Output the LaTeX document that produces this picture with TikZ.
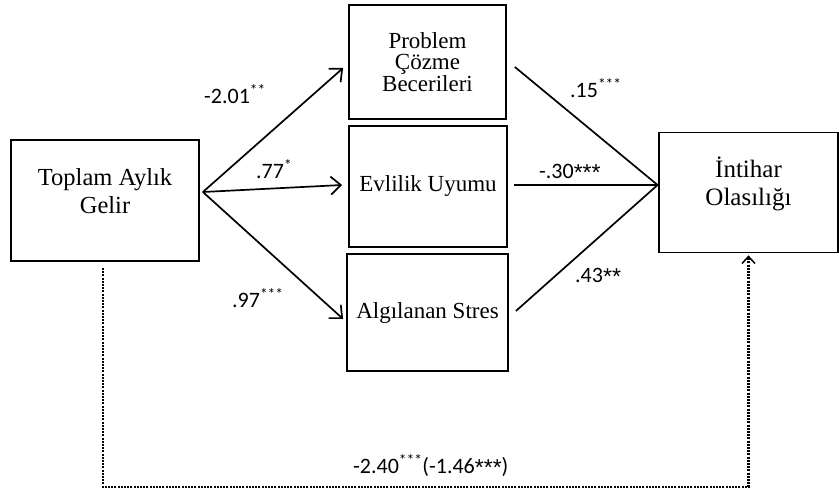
\documentclass[tikz,border=0pt]{standalone}
\usepackage{fontspec}
\setmainfont{Liberation Serif}
\newfontfamily\labfont{Carlito}
\newfontfamily\starfont{Liberation Sans}
\newcommand{\bigstars}[1]{{\starfont\fontsize{23}{24}\selectfont\raisebox{-2pt}{#1}}}
\usetikzlibrary{arrows.meta}
\begin{document}
\begin{tikzpicture}[x=1pt,y=-1pt,
  box/.style={draw, line width=1.8pt, inner sep=0pt, align=center},
  big/.style={font=\fontsize{24.5}{28}\selectfont},
  mid/.style={font=\fontsize{23}{27}\selectfont},
  small/.style={font=\fontsize{23}{21.5}\selectfont},
  coef/.style={font=\labfont\fontsize{22}{24}\selectfont, inner sep=0pt, anchor=base west},
  conn/.style={line width=1.7pt},
  arr/.style={conn, -{Straight Barb[length=10pt,width=18pt,line width=1.7pt]}},
  dots/.style={line width=2.2pt, dash pattern=on 2pt off 1.2pt,
    -{Straight Barb[length=7pt,width=13pt,line width=1.5pt]}}
]
\useasboundingbox (0,0) rectangle (839,490);

\node[box,big,minimum width=188pt,minimum height=121pt] (inc) at (105,200.5)
  {\raisebox{7pt}[\height][\depth]{\begin{tabular}{@{}c@{}}Toplam Aylık\\Gelir\end{tabular}}};
\node[box,small,minimum width=157pt,minimum height=114pt] (pcb) at (427.5,62)
  {Problem\\Çözme\\Becerileri};
\node[box,mid,minimum width=158pt,minimum height=121pt] (ev) at (428,186.5)
  {Evlilik Uyumu};
\node[box,mid,minimum width=161pt,minimum height=117pt] (st) at (427.5,312.5)
  {Algılanan Stres};
\node[box,big,font=\fontsize{25}{28}\selectfont,minimum width=179pt,minimum height=120pt] (out) at (748.5,192.5)
  {\raisebox{7pt}[\height][\depth]{\begin{tabular}{@{}c@{}}İntihar\\Olasılığı\end{tabular}}};

% connector end points
\coordinate (s)  at ([xshift=3pt,yshift=8.5pt]inc.east);
\coordinate (t1) at ([xshift=-5pt,yshift=-6pt]pcb.west);
\coordinate (t2) at ([xshift=-6pt,yshift=1.5pt]ev.west);
\coordinate (t3) at ([xshift=-3pt,yshift=-6.5pt]st.west);
\coordinate (m)  at ([xshift=-0.5pt,yshift=7.5pt]out.west);
\coordinate (p1) at ([xshift=8pt,yshift=-5pt]pcb.east);
\coordinate (p2) at ([xshift=6pt,yshift=1.5pt]ev.east);
\coordinate (p3) at ([xshift=7pt,yshift=1.5pt]st.east);

\draw[arr] (s) -- (t1);
\draw[arr] (s) -- (t2);
\draw[arr] (s) -- (t3);
\draw[conn] (p1) -- (m);
\draw[conn] (p2) -- (m);
\draw[conn] (p3) -- (m);

\draw[dots] ([xshift=-2pt,yshift=-6pt]inc.south) -- ++(0,219) -| ([yshift=-2pt]out.south);

\node[coef] (l1) at (204,103) {-2.01\textsuperscript{**}};
\node[coef] (l2) at (256,178) {.77\textsuperscript{*}};
\node[coef] (l3) at (232,307) {.97\textsuperscript{***}};
\node[coef] (l4) at (570,97) {.15\textsuperscript{***}};
\node[coef] (l5) at (539,178) {-.30\bigstars{***}};
\node[coef] (l6) at (575,282) {.43\bigstars{**}};
\node[coef] (l7) at (353,473) {-2.40\textsuperscript{***}(-1.46\bigstars{***})};
\end{tikzpicture}
\end{document}
